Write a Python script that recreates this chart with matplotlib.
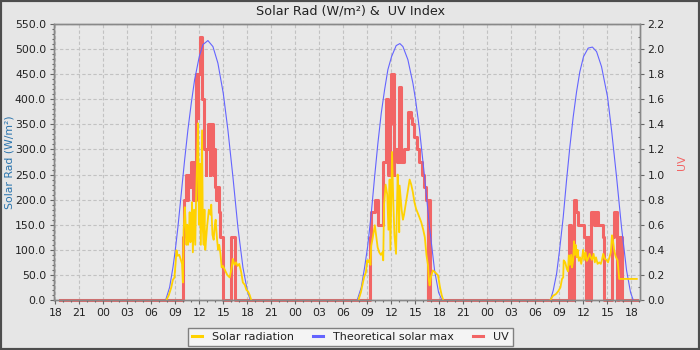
import matplotlib
matplotlib.use("Agg")
import matplotlib.pyplot as plt
from matplotlib.lines import Line2D
from matplotlib.patches import Rectangle
from matplotlib.ticker import MultipleLocator, FormatStrFormatter, FuncFormatter

# x positions are hours since 18:00 on the first evening; each day's
# readings are kept in local clock hours and shifted by DAY_OFFSETS
DAY_OFFSETS = [6, 30, 54]
RECORD_START = 0.6
RECORD_END = 72.7

# solar radiation (W/m2)
SOLAR_D1_H = [7.9, 8.2, 8.5, 8.7, 8.9, 9.05, 9.15, 9.3, 9.5, 9.7, 9.85, 9.95, 10.05, 10.2,
              10.3, 10.4, 10.5, 10.6, 10.7, 10.8, 10.9, 11.0, 11.1, 11.2, 11.35, 11.5, 11.6,
              11.7, 11.85, 11.95, 12.05, 12.2, 12.35, 12.45, 12.55, 12.65, 12.75, 12.9, 13.0,
              13.2, 13.4, 13.5, 13.65, 13.8, 13.95, 14.05, 14.2, 14.35, 14.5, 14.65, 14.8,
              14.95, 15.2, 15.5, 15.8, 16.0, 16.2, 16.4, 16.6, 16.8, 17.0, 17.25, 17.45,
              17.7, 17.9, 18.1, 18.3, 18.5]
SOLAR_D1 = [0, 10, 25, 40, 45, 75, 99, 88, 90, 80, 72, 35, 140, 185,
            150, 110, 150, 110, 125, 175, 115, 125, 195, 95, 180, 110, 200,
            260, 352, 150, 272, 110, 338, 140, 110, 180, 100, 130, 150,
            180, 170, 190, 130, 120, 150, 160, 125, 100, 110, 92, 65,
            68, 60, 50, 45, 60, 82, 70, 75, 68, 72, 55, 35,
            30, 20, 17, 10, 0]

SOLAR_D2_H = [7.9, 8.2, 8.4, 8.6, 8.83, 9.0, 9.1, 9.25, 9.4, 9.5, 9.7, 9.95, 10.1, 10.3,
              10.5, 10.7, 10.9, 11.0, 11.1, 11.3, 11.5, 11.65, 11.8, 11.9, 12.1, 12.25,
              12.4, 12.6, 12.8, 12.9, 13.0, 13.05, 13.3, 13.46, 13.6, 13.8, 14.05, 14.3,
              14.5, 14.7, 14.9, 15.1, 15.4, 15.75, 16.0, 16.2, 16.4, 16.6, 16.7, 16.8,
              16.95, 17.2, 17.5, 17.85, 18.1, 18.3, 18.5]
SOLAR_D2 = [0, 15, 30, 45, 55, 79, 75, 80, 70, 108, 125, 149, 130, 105,
            95, 90, 95, 79, 190, 230, 210, 140, 240, 100, 295, 200,
            130, 92, 250, 210, 135, 228, 180, 160, 170, 190, 215, 240,
            230, 215, 195, 182, 170, 155, 140, 125, 90, 69, 40, 29,
            45, 59, 55, 49, 25, 10, 0]

SOLAR_D3_H = [7.9, 8.2, 8.6, 8.9, 9.15, 9.35, 9.5, 9.56, 9.75, 9.95, 10.1, 10.2, 10.35,
              10.5, 10.6, 10.75, 10.85, 10.95, 11.05, 11.2, 11.3, 11.45, 11.6, 11.75, 11.9,
              12.0, 12.15, 12.3, 12.45, 12.6, 12.8, 12.95, 13.1, 13.3, 13.45, 13.6, 13.8,
              14.0, 14.2, 14.35, 14.5, 14.7, 14.9, 15.1, 15.3, 15.45, 15.6, 15.75, 15.85,
              16.0, 16.1, 16.3, 16.5, 18.7]
SOLAR_D3 = [0, 8, 12, 18, 25, 42, 45, 79, 75, 62, 57, 89, 70,
            90, 65, 80, 117, 90, 110, 85, 100, 78, 85, 72, 88,
            100, 80, 95, 78, 82, 92, 85, 80, 92, 75, 85, 72,
            75, 72, 80, 92, 82, 80, 75, 86, 95, 129, 115, 102,
            90, 85, 79, 42, 42]

# theoretical clear-sky maximum (W/m2)
MAX_D1_H = [7.8, 8.29, 8.71, 9.0, 9.33, 9.75, 10.17, 10.58, 11.0, 11.42, 12.0, 12.46,
            13.08, 13.71, 14.33, 15.0, 15.58, 16.21, 16.83, 17.46, 18.0, 18.37]
MAX_D1 = [0, 25, 65, 99, 145, 212, 279, 339, 392, 439, 485, 509,
          517, 505, 472, 412, 339, 245, 145, 65, 19, 0]

MAX_D2_H = [7.75, 8.25, 8.67, 9.04, 9.5, 9.92, 10.33, 10.75, 11.17, 11.58, 12.04, 12.62,
            13.08, 13.46, 14.08, 14.71, 15.04, 15.54, 16.17, 16.79, 17.42, 17.92, 18.33]
MAX_D2 = [0, 25, 65, 105, 172, 245, 312, 372, 419, 459, 485, 507,
          511, 505, 479, 432, 399, 339, 245, 145, 59, 15, 0]

MAX_D3_H = [7.9, 8.25, 8.67, 9.04, 9.5, 9.92, 10.33, 10.75, 11.17, 11.58, 12.04, 12.62,
            13.15, 13.67, 14.29, 15.04, 15.54, 16.17, 16.79, 17.42, 17.92, 18.25]
MAX_D3 = [0, 19, 52, 99, 165, 239, 305, 365, 415, 455, 485, 502,
          504, 495, 465, 405, 339, 245, 145, 59, 15, 0]

# UV index, stepped readings
UV_D1_H = [9.96, 10.1, 10.3, 10.5, 10.6, 10.8, 10.95, 11.2, 11.35, 11.45, 11.6, 11.8,
           11.9, 12.15, 12.4, 12.55, 12.65, 12.8, 12.9, 13.1, 13.3, 13.4, 13.7, 13.8,
           13.95, 14.1, 14.3, 14.45, 14.65, 14.95, 16.0, 16.5]
UV_D1 = [0.5, 0.8, 1.0, 0.8, 1.0, 0.9, 1.1, 0.8, 1.1, 0.8, 1.8, 1.45,
         1.8, 2.1, 1.6, 1.45, 1.2, 1.0, 1.2, 1.4, 1.0, 1.4, 1.0, 1.2,
         0.9, 0.8, 0.9, 0.7, 0.5, 0.0, 0.5, 0.0]

UV_D2_H = [9.4, 9.5, 9.95, 10.4, 11.0, 11.3, 11.65, 11.8, 12.0, 12.3, 12.4, 12.75,
           13.0, 13.25, 13.55, 14.1, 14.5, 14.65, 14.9, 15.2, 15.5, 15.8, 16.1, 16.35,
           16.55, 16.65, 16.8]
UV_D2 = [0.5, 0.7, 0.8, 0.6, 1.1, 1.6, 1.0, 1.4, 1.8, 1.0, 1.2, 1.1,
         1.7, 1.1, 1.2, 1.5, 1.45, 1.4, 1.3, 1.2, 1.1, 1.0, 0.9, 0.8,
         0.0, 0.8, 0.0]

UV_D3_H = [10.2, 10.45, 10.8, 11.05, 11.4, 12.15, 12.4, 12.6, 12.8, 12.95, 13.3, 13.55,
           13.8, 14.45, 14.65, 15.55, 15.8, 16.2, 16.45, 16.85]
UV_D3 = [0.6, 0.0, 0.8, 0.7, 0.6, 0.5, 0.0, 0.5, 0.0, 0.7, 0.6, 0.7,
         0.6, 0.5, 0.0, 0.5, 0.7, 0.0, 0.5, 0.0]

FIG_BG = "#e6e6e6"
PLOT_BG = "#e8e8e8"
YELLOW = "#ffd200"
BLUE = "#6464ff"
RED = "#f26565"
AXIS_GREY = "#888888"
TEXT = "#222222"


def shift(hours, offset):
    return [h + offset for h in hours]


fig = plt.figure(figsize=(7, 3.5), dpi=100, facecolor=FIG_BG)
ax = fig.add_axes([54 / 700, 50 / 350, 586 / 700, 276 / 350])
ax_uv = ax.twinx()

# solar axes drawn above the UV axes so the radiation trace sits on top
ax.set_zorder(ax_uv.get_zorder() + 1)
ax.patch.set_visible(False)
ax_uv.patch.set_visible(True)
ax_uv.patch.set_facecolor(PLOT_BG)

# UV as one continuous stepped series, zero overnight
uv_t = [RECORD_START]
uv_v = [0.0]
for hours, vals, off in zip([UV_D1_H, UV_D2_H, UV_D3_H], [UV_D1, UV_D2, UV_D3], DAY_OFFSETS):
    uv_t += shift(hours, off)
    uv_v += vals
uv_t.append(RECORD_END)
uv_v.append(0.0)
ax_uv.plot(uv_t, uv_v, drawstyle="steps-post", color=RED, lw=2.2, clip_on=False)

for hours, vals, off in zip([MAX_D1_H, MAX_D2_H, MAX_D3_H], [MAX_D1, MAX_D2, MAX_D3], DAY_OFFSETS):
    ax.plot(shift(hours, off), vals, color=BLUE, lw=0.8)
for hours, vals, off in zip([SOLAR_D1_H, SOLAR_D2_H, SOLAR_D3_H], [SOLAR_D1, SOLAR_D2, SOLAR_D3], DAY_OFFSETS):
    ax.plot(shift(hours, off), vals, color=YELLOW, lw=1.3)

ax.set_xlim(-0.16, 73.1)
ax.set_ylim(0, 550)
ax_uv.set_ylim(0, 2.2)

ax.xaxis.set_major_locator(MultipleLocator(3))
ax.xaxis.set_minor_locator(MultipleLocator(1))
ax.xaxis.set_major_formatter(FuncFormatter(lambda x, pos: f"{int(round(x + 18)) % 24:02d}"))
ax.yaxis.set_major_locator(MultipleLocator(50))
ax.yaxis.set_minor_locator(MultipleLocator(10))
ax.yaxis.set_major_formatter(FormatStrFormatter("%.1f"))
ax_uv.yaxis.set_major_locator(MultipleLocator(0.2))
ax_uv.yaxis.set_minor_locator(MultipleLocator(0.1))
ax_uv.yaxis.set_major_formatter(FormatStrFormatter("%.1f"))

# grid lives on the lower axes so the data lines cover it
ax_uv.xaxis.set_visible(True)
ax_uv.tick_params(axis="x", which="both", bottom=False, top=False, labelbottom=False, labeltop=False)
ax_uv.grid(True, which="major", color="#c2c2c2", linestyle=(0, (3, 2)), linewidth=0.8)

for a in (ax, ax_uv):
    for sp in a.spines.values():
        sp.set_color(AXIS_GREY)
        sp.set_linewidth(1.0)

ax.tick_params(axis="both", which="major", length=2.9, width=0.8, color="#666666",
               labelsize=7.8, labelcolor=TEXT, pad=2.8)
ax.tick_params(axis="both", which="minor", length=1.5, width=0.8, color="#666666")
ax_uv.tick_params(axis="y", which="major", length=2.9, width=0.8, color="#666666",
                  labelsize=7.8, labelcolor=TEXT, pad=2.6)
ax_uv.tick_params(axis="y", which="minor", direction="in", length=1.5, width=0.8, color="#666666")

ax.set_ylabel("Solar Rad (W/m²)", color="#2a74ad", fontsize=7.8)
ax.yaxis.set_label_coords((15 - 54) / 586, 0.5)
ax_uv.set_ylabel("UV", color=RED, fontsize=7.8)
ax_uv.yaxis.set_label_coords((676.5 - 54) / 586, 0.5)

fig.text(0.5, 1 - 11.5 / 350, "Solar Rad (W/m²) &  UV Index", ha="center", va="center",
         fontsize=9.2, color=TEXT)

handles = [Line2D([], [], color=YELLOW, lw=2.2),
           Line2D([], [], color=BLUE, lw=2.2),
           Line2D([], [], color=RED, lw=2.2)]
labels = ["Solar radiation", "Theoretical solar max", "UV"]
leg = fig.legend(handles, labels, loc="center", bbox_to_anchor=(350.5 / 700, 1 - 337 / 350),
                 ncol=3, fontsize=8, frameon=True, fancybox=False, framealpha=1,
                 facecolor="#f4f4f4", edgecolor="#808080", borderpad=0.4,
                 handlelength=0.9, handletextpad=0.9, columnspacing=1.7, borderaxespad=0)
leg.get_frame().set_linewidth(1.0)
for txt in leg.get_texts():
    txt.set_color(TEXT)

fig.patches.append(Rectangle((0, 0), 1, 1, transform=fig.transFigure, fill=False,
                             edgecolor="#4d4d4d", linewidth=3.0))

fig.savefig("out.png", dpi=100, facecolor=FIG_BG)
